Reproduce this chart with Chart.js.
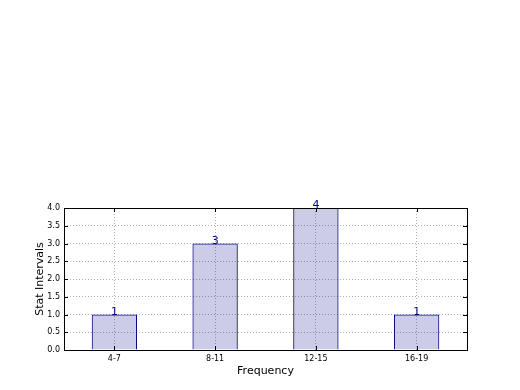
<!DOCTYPE html>
<html>
<head>
<meta charset="utf-8">
<script src="https://cdn.jsdelivr.net/npm/chart.js@4"></script>
<style>
  html, body { margin: 0; padding: 0; background: #fff; }
  #wrap { width: 520px; height: 390px; }
</style>
</head>
<body>
<div id="wrap"><canvas id="chart"></canvas></div>
<script>
// --- data ---
const categories = ['4-7', '8-11', '12-15', '16-19'];
const counts = [1, 3, 4, 1];
const yTicks = [0, 0.5, 1, 1.5, 2, 2.5, 3, 3.5, 4];

const FONT = "'DejaVu Sans', sans-serif";
const NAVY = '#000080';

// bar value labels above each bar
const barLabels = {
  id: 'barLabels',
  afterDatasetsDraw(chart) {
    const ctx = chart.ctx;
    const meta = chart.getDatasetMeta(0);
    ctx.save();
    ctx.fillStyle = NAVY;
    ctx.font = '11px ' + FONT;
    ctx.textAlign = 'center';
    ctx.textBaseline = 'bottom';
    meta.data.forEach((bar, i) => {
      ctx.fillText(String(counts[i]), bar.x, bar.y + 3);
    });
    ctx.restore();
  }
};

// box around the plot and inward tick marks (matplotlib style)
const frame = {
  id: 'frame',
  afterDraw(chart) {
    const { ctx, chartArea: a, scales } = chart;
    ctx.save();
    ctx.strokeStyle = '#000';
    ctx.lineWidth = 1;
    ctx.beginPath();
    yTicks.forEach(v => {
      const y = Math.round(scales.y.getPixelForValue(v)) + 0.5;
      ctx.moveTo(a.left, y); ctx.lineTo(a.left + 4, y);
      ctx.moveTo(a.right, y); ctx.lineTo(a.right - 4, y);
    });
    categories.forEach((c, i) => {
      const x = Math.round(scales.x.getPixelForValue(i)) + 0.5;
      ctx.moveTo(x, a.bottom); ctx.lineTo(x, a.bottom - 4);
      ctx.moveTo(x, a.top); ctx.lineTo(x, a.top + 4);
    });
    ctx.stroke();
    ctx.strokeRect(Math.round(a.left) + 0.5, Math.round(a.top) + 0.5,
      Math.round(a.right - a.left), Math.round(a.bottom - a.top));
    ctx.restore();
  }
};

new Chart(document.getElementById('chart'), {
  type: 'bar',
  data: {
    labels: categories,
    datasets: [{
      data: counts,
      backgroundColor: 'rgba(0, 0, 128, 0.2)',
      borderColor: NAVY,
      borderWidth: 1,
      barPercentage: 0.45,
      categoryPercentage: 1,
      borderSkipped: 'bottom'
    }]
  },
  options: {
    responsive: true,
    maintainAspectRatio: false,
    animation: false,
    layout: { padding: { top: 208, right: 53, left: 34, bottom: 12 } },
    plugins: {
      legend: { display: false },
      tooltip: { enabled: false }
    },
    scales: {
      x: {
        offset: true,
        afterFit: (s) => { s.height = 28; },
        grid: { color: '#b0b0b0', drawTicks: false, offset: false },
        border: { display: false, dash: [1, 2] },
        ticks: { color: '#000', font: { family: FONT, size: 8 }, padding: 4, maxRotation: 0 },
        title: { display: true, text: 'Frequency', color: '#000', font: { family: FONT, size: 11 }, padding: 0 }
      },
      y: {
        min: 0,
        max: 4,
        afterFit: (s) => { s.width = 30; },
        afterBuildTicks: (s) => { s.ticks = yTicks.map(v => ({ value: v })); },
        grid: { color: '#b0b0b0', drawTicks: false },
        border: { display: false, dash: [1, 2] },
        ticks: { color: '#000', font: { family: FONT, size: 8 }, padding: 4, callback: (v) => v.toFixed(1) },
        title: { display: true, text: 'Stat Intervals', color: '#000', font: { family: FONT, size: 11 }, padding: 0 }
      }
    }
  },
  plugins: [barLabels, frame]
});
</script>
</body>
</html>
